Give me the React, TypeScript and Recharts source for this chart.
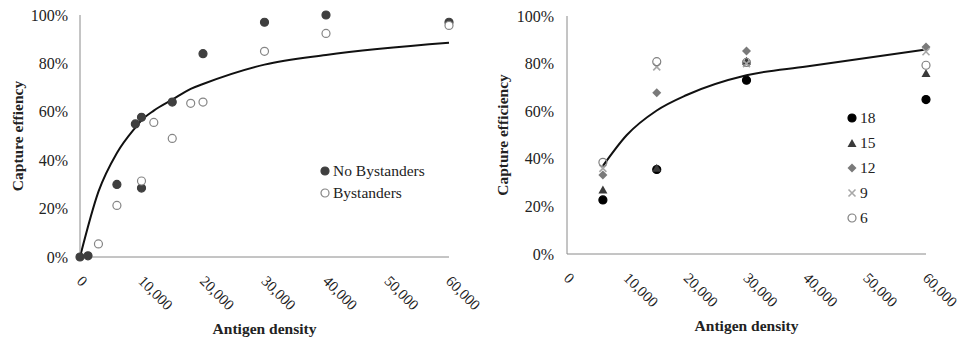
import { ComposedChart, Scatter, Line, XAxis, YAxis } from "recharts";

// left panel: capture efficiency with / without bystanders
const noBystDensity = [0, 1300, 6000, 9000, 10000, 10000, 15000, 20000, 30000, 40000, 60000];
const noBystEff = [0, 0.5, 30, 55, 57.7, 28.5, 64, 84, 97, 100, 97];
const bystDensity = [3000, 6000, 10000, 12000, 15000, 18000, 20000, 30000, 40000, 60000];
const bystEff = [5.4, 21.3, 31.4, 55.6, 49, 63.5, 64, 85, 92.4, 95.7];
const fitLeftDensity = [0, 3000, 6000, 9000, 10000, 12000, 15000, 18000, 20000, 30000, 40000, 60000];
const fitLeftEff = [0, 27, 43, 53.5, 56.5, 60.5, 65, 69.5, 71.5, 79.5, 83.5, 88.5];

// right panel: by group size
const rightDensity = [6000, 15000, 30000, 60000];
const groupNames = ["18", "15", "12", "9", "6"];
const eff18 = [22.7, 35.5, 73, 64.9];
const eff15 = [26.9, 36, 81, 75.8];
const eff12 = [33.2, 67.8, 85.3, 87];
const eff9 = [36, 78.6, 80, 85];
const eff6 = [38.5, 80.8, 80.5, 79.3];
const fitRightDensity = [6000, 10000, 15000, 20000, 30000, 40000, 50000, 60000];
const fitRightEff = [37, 50, 60.3, 66.8, 75.1, 78.8, 82.4, 85.9];

const xTicks = [0, 10000, 20000, 30000, 40000, 50000, 60000];
const yTicks = [0, 20, 40, 60, 80, 100];

const FONT = '"Liberation Serif", "Times New Roman", serif';
const AXIS = "#8a8a8a";

const zip = (xs: number[], ys: number[]) => xs.map((x, i) => ({ x, y: ys[i] }));

function Dot({ cx, cy, fill, stroke, r = 4 }: any) {
  return <circle cx={cx} cy={cy} r={r} fill={fill} stroke={stroke ?? fill} strokeWidth={1.2} />;
}

function Tri({ cx, cy, fill }: any) {
  return <path d={`M${cx},${cy - 4.5} L${cx + 4.5},${cy + 3.5} L${cx - 4.5},${cy + 3.5} Z`} fill={fill} />;
}

function Diamond({ cx, cy, fill }: any) {
  return <path d={`M${cx},${cy - 4.5} L${cx + 4.5},${cy} L${cx},${cy + 4.5} L${cx - 4.5},${cy} Z`} fill={fill} />;
}

function Cross({ cx, cy, fill }: any) {
  const d = 3.5;
  return (
    <path
      d={`M${cx - d},${cy - d} L${cx + d},${cy + d} M${cx - d},${cy + d} L${cx + d},${cy - d}`}
      stroke={fill}
      strokeWidth={1.6}
      fill="none"
    />
  );
}

function SlantTick({ x, y, payload }: any) {
  const ax = x - 4;
  const ay = y + 25;
  return (
    <text
      x={ax}
      y={ay}
      transform={`rotate(45 ${ax} ${ay})`}
      textAnchor="start"
      style={{ fontSize: 15, fontFamily: FONT, fill: "#222" }}
    >
      {Number(payload.value).toLocaleString("en-US")}
    </text>
  );
}

function YTick({ x, y, payload }: any) {
  return (
    <text
      x={x}
      y={y}
      textAnchor="end"
      dominantBaseline="central"
      style={{ fontSize: 16, fontFamily: FONT, fill: "#222" }}
    >
      {`${payload.value}%`}
    </text>
  );
}

function YTitle({ viewBox, value, left }: any) {
  const cy = viewBox.y + viewBox.height / 2;
  return (
    <text
      x={left}
      y={cy}
      transform={`rotate(-90 ${left} ${cy})`}
      textAnchor="middle"
      dominantBaseline="central"
      style={{ fontSize: 15.5, fontWeight: "bold", fontFamily: FONT, fill: "#222" }}
    >
      {value}
    </text>
  );
}

function XTitle({ viewBox, value, top }: any) {
  const cx = viewBox.x + viewBox.width / 2;
  return (
    <text
      x={cx}
      y={top}
      textAnchor="middle"
      style={{ fontSize: 15.5, fontWeight: "bold", fontFamily: FONT, fill: "#222" }}
    >
      {value}
    </text>
  );
}

function LegendRow({ children, label }: { children: React.ReactNode; label: string }) {
  return (
    <div style={{ display: "flex", alignItems: "center", height: 22 }}>
      <svg width={12} height={12} style={{ marginRight: 2 }}>
        {children}
      </svg>
      <span>{label}</span>
    </div>
  );
}

export default function App() {
  const noByst = zip(noBystDensity, noBystEff);
  const byst = zip(bystDensity, bystEff);
  const fitLeft = zip(fitLeftDensity, fitLeftEff);
  const fitRight = zip(fitRightDensity, fitRightEff);
  const groups = [eff18, eff15, eff12, eff9, eff6].map((e) => zip(rightDensity, e));

  return (
    <div style={{ position: "absolute", left: 0, top: 0, width: 959, height: 341, background: "#fff" }}>
      <div style={{ position: "absolute", left: 0, top: 0 }}>
        <ComposedChart width={480} height={341} margin={{ top: 15, right: 31, left: 0, bottom: 54 }}>
          <XAxis
            type="number"
            dataKey="x"
            domain={[0, 60000]}
            ticks={xTicks}
            height={30}
            tickLine={false}
            tickSize={0}
            tickMargin={0}
            stroke={AXIS}
            tick={<SlantTick />}
            label={<XTitle value="Antigen density" top={334} />}
          />
          <YAxis
            type="number"
            dataKey="y"
            width={80}
            domain={[0, 100]}
            ticks={yTicks}
            tickLine={false}
            tickSize={0}
            tickMargin={12}
            stroke={AXIS}
            tick={<YTick />}
            label={<YTitle value="Capture effiency" left={17} />}
          />
          <Line
            data={fitLeft}
            dataKey="y"
            type="monotone"
            stroke="#111"
            strokeWidth={2}
            dot={false}
            isAnimationActive={false}
          />
          <Scatter data={noByst} shape={(p: any) => <Dot {...p} fill="#3f3f3f" />} isAnimationActive={false} />
          <Scatter
            data={byst}
            shape={(p: any) => <Dot {...p} fill="#fff" stroke="#858585" />}
            isAnimationActive={false}
          />
        </ComposedChart>
        <div
          style={{
            position: "absolute",
            left: 319,
            top: 160,
            fontFamily: FONT,
            fontSize: 15.5,
            color: "#222",
            lineHeight: "22px",
          }}
        >
          <LegendRow label="No Bystanders">
            <Dot cx={6} cy={6} r={4} fill="#3f3f3f" />
          </LegendRow>
          <LegendRow label="Bystanders">
            <Dot cx={6} cy={6} r={4} fill="#fff" stroke="#858585" />
          </LegendRow>
        </div>
      </div>

      <div style={{ position: "absolute", left: 480, top: 0 }}>
        <ComposedChart width={479} height={341} margin={{ top: 16, right: 33, left: 0, bottom: 57 }}>
          <XAxis
            type="number"
            dataKey="x"
            domain={[0, 60000]}
            ticks={xTicks}
            height={30}
            tickLine={false}
            tickSize={0}
            tickMargin={0}
            stroke={AXIS}
            tick={<SlantTick />}
            label={<XTitle value="Antigen density" top={331} />}
          />
          <YAxis
            type="number"
            dataKey="y"
            width={87}
            domain={[0, 100]}
            ticks={yTicks}
            tickLine={false}
            tickSize={0}
            tickMargin={13}
            stroke={AXIS}
            tick={<YTick />}
            label={<YTitle value="Capture efficiency" left={22} />}
          />
          <Line
            data={fitRight}
            dataKey="y"
            type="monotone"
            stroke="#111"
            strokeWidth={2}
            dot={false}
            isAnimationActive={false}
          />
          <Scatter data={groups[0]} shape={(p: any) => <Dot {...p} fill="#000" />} isAnimationActive={false} />
          <Scatter data={groups[1]} shape={(p: any) => <Tri {...p} fill="#3a3a3a" />} isAnimationActive={false} />
          <Scatter data={groups[2]} shape={(p: any) => <Diamond {...p} fill="#7a7a7a" />} isAnimationActive={false} />
          <Scatter data={groups[3]} shape={(p: any) => <Cross {...p} fill="#a8a8a8" />} isAnimationActive={false} />
          <Scatter
            data={groups[4]}
            shape={(p: any) => <Dot {...p} fill="none" stroke="#808080" />}
            isAnimationActive={false}
          />
        </ComposedChart>
        <div
          style={{
            position: "absolute",
            left: 366,
            top: 105,
            fontFamily: FONT,
            fontSize: 15.5,
            color: "#222",
            lineHeight: "25px",
          }}
        >
          {groupNames.map((name, i) => (
            <div key={name} style={{ display: "flex", alignItems: "center", height: 25 }}>
              <svg width={12} height={12} style={{ marginRight: 2 }}>
                {i === 0 && <Dot cx={6} cy={6} r={4} fill="#000" />}
                {i === 1 && <Tri cx={6} cy={6.5} fill="#3a3a3a" />}
                {i === 2 && <Diamond cx={6} cy={6} fill="#7a7a7a" />}
                {i === 3 && <Cross cx={6} cy={6} fill="#a8a8a8" />}
                {i === 4 && <Dot cx={6} cy={6} r={4} fill="none" stroke="#808080" />}
              </svg>
              <span>{name}</span>
            </div>
          ))}
        </div>
      </div>
    </div>
  );
}
